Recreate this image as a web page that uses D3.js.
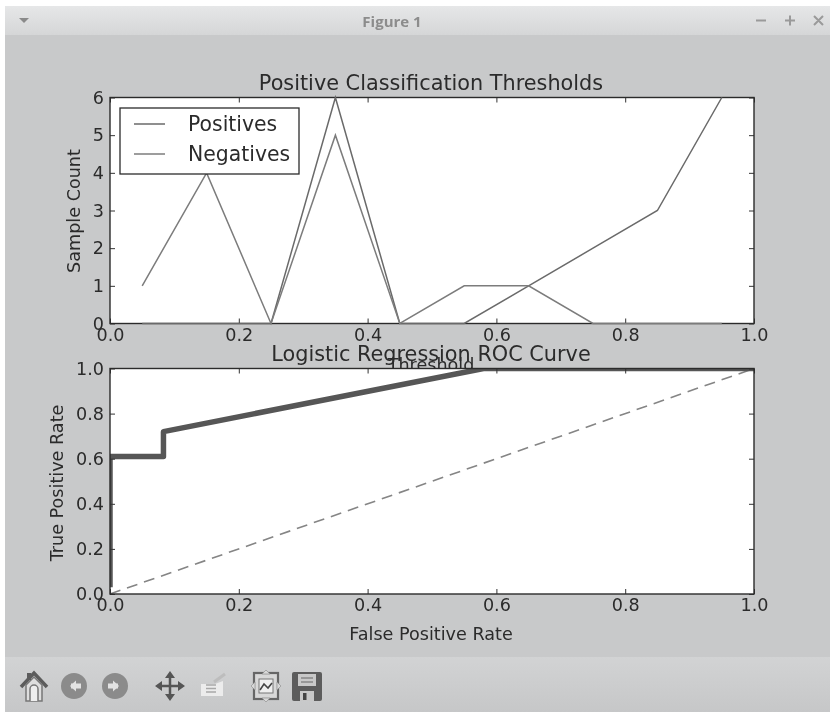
<!DOCTYPE html>
<html><head><meta charset="utf-8">
<script src="https://cdn.jsdelivr.net/npm/d3@7"></script>
<style>
html,body{margin:0;padding:0;background:#fff;overflow:hidden}
svg{display:block;filter:blur(0.45px)}
text{font-family:"DejaVu Sans",sans-serif;fill:#2b2b2b}
.axis path{display:none}
.axis line{stroke:#333;stroke-width:1}
.axis text{font-size:17.6px;fill:#2b2b2b}
</style></head><body>
<svg id="c" width="830" height="712"></svg>
<script>
const thresholds=[0.05,0.15,0.25,0.35,0.45,0.55,0.65,0.75,0.85,0.95];
const positives=[0,0,0,6,0,0,1,2,3,6];
const negatives=[1,4,0,5,0,1,1,0,0,0];
const rocFpr=[0,0,0.083,0.083,0.58,1];
const rocTpr=[0.03,0.61,0.61,0.72,1,1];
const diagFpr=[0,1];
const diagTpr=[0,1];
const xTicks=[0,0.2,0.4,0.6,0.8,1];
const countTicks=[0,1,2,3,4,5,6];
const rateTicks=[0,0.2,0.4,0.6,0.8,1];
const legendLabels=["Positives","Negatives"];

const svg=d3.select("#c");
const defs=svg.append("defs");
const g1=defs.append("linearGradient").attr("id","tb").attr("x1",0).attr("x2",0).attr("y1",0).attr("y2",1);
g1.append("stop").attr("offset",0).attr("stop-color","#e6e7e8");
g1.append("stop").attr("offset",1).attr("stop-color","#d5d6d7");
const g2=defs.append("linearGradient").attr("id","bar").attr("x1",0).attr("x2",0).attr("y1",0).attr("y2",1);
g2.append("stop").attr("offset",0).attr("stop-color","#d2d3d4");
g2.append("stop").attr("offset",1).attr("stop-color","#c6c7c8");

// window chrome
svg.append("rect").attr("x",5).attr("y",6).attr("width",825).attr("height",706).attr("fill","#c8c9ca");
svg.append("rect").attr("x",5).attr("y",6).attr("width",825).attr("height",29).attr("fill","url(#tb)");
svg.append("rect").attr("x",5).attr("y",657).attr("width",825).attr("height",55).attr("fill","url(#bar)");
svg.append("path").attr("d","M19 18h10l-5 5z").attr("fill","#8a8a8a");
svg.append("text").attr("x",392).attr("y",27).attr("text-anchor","middle").attr("font-size",15).attr("font-weight","bold")
  .style("font-family","'Open Sans',sans-serif").style("fill","#8c8c8c").text("Figure 1");
svg.append("path").attr("d","M756 20.5h10M790 15.5v10M785 20.5h10M814 16l9 9M823 16l-9 9").attr("stroke","#9a9a9a").attr("stroke-width",2).attr("fill","none");

const left=110,right=754;
function panel(top,bottom,yDomain,yT,yFmt,id){
  const x=d3.scaleLinear().domain([0,1]).range([left,right]);
  const y=d3.scaleLinear().domain(yDomain).range([bottom,top]);
  const g=svg.append("g");
  g.append("rect").attr("x",left).attr("y",top).attr("width",right-left).attr("height",bottom-top).attr("fill","#fff");
  defs.append("clipPath").attr("id",id).append("rect").attr("x",left).attr("y",top).attr("width",right-left).attr("height",bottom-top);
  return {x,y,g,top,bottom,yT,yFmt};
}
function frame(p){
  const {x,y,g,top,bottom,yT,yFmt}=p;
  const xf=d3.format(".1f");
  g.append("g").attr("class","axis").attr("transform",`translate(0,${bottom})`)
    .call(d3.axisBottom(x).tickValues(xTicks).tickFormat(xf).tickSizeInner(-5).tickPadding(5))
    .selectAll("text").attr("dy","0.71em");
  g.append("g").attr("class","axis").attr("transform",`translate(0,${top})`)
    .call(d3.axisTop(x).tickValues(xTicks).tickFormat("").tickSizeInner(-5));
  g.append("g").attr("class","axis").attr("transform",`translate(${left},0)`)
    .call(d3.axisLeft(y).tickValues(yT).tickFormat(yFmt).tickSizeInner(-5).tickPadding(6));
  g.append("g").attr("class","axis").attr("transform",`translate(${right},0)`)
    .call(d3.axisRight(y).tickValues(yT).tickFormat("").tickSizeInner(-5));
  g.append("rect").attr("x",left).attr("y",top).attr("width",right-left).attr("height",bottom-top)
    .attr("fill","none").attr("stroke","#2b2b2b").attr("stroke-width",1.4);
}

// top panel
const p1=panel(97.5,323.5,[0,6],countTicks,d3.format("d"),"clip1");
const line1=d3.line().x(d=>p1.x(d[0])).y(d=>p1.y(d[1]));
frame(p1);
[[positives,"#6a6a6a"],[negatives,"#7c7c7c"]].forEach(([v,c])=>{
  p1.g.append("path").attr("d",line1(thresholds.map((t,i)=>[t,v[i]]))).attr("fill","none").attr("stroke",c).attr("stroke-width",1.5);
});
svg.append("text").attr("x",431).attr("y",90).attr("text-anchor","middle").attr("font-size",20.8).text("Positive Classification Thresholds");
svg.append("text").attr("transform","translate(80,211) rotate(-90)").attr("text-anchor","middle").attr("font-size",17.6).text("Sample Count");
svg.append("text").attr("x",431).attr("y",371).attr("text-anchor","middle").attr("font-size",17.6).text("Threshold");

// legend
const lg=svg.append("g");
lg.append("rect").attr("x",120).attr("y",108).attr("width",179).attr("height",66).attr("fill","#fff").attr("stroke","#2b2b2b").attr("stroke-width",1.3);
legendLabels.forEach((l,i)=>{
  const yy=124+i*30;
  lg.append("line").attr("x1",134).attr("x2",165).attr("y1",yy).attr("y2",yy).attr("stroke",i?"#7c7c7c":"#6a6a6a").attr("stroke-width",1.5);
  lg.append("text").attr("x",188).attr("y",yy+7).attr("font-size",20.4).text(l);
});

// bottom panel
const p2=panel(368.5,594,[0,1],rateTicks,d3.format(".1f"),"clip2");
const line2=d3.line().x(d=>p2.x(d[0])).y(d=>p2.y(d[1]));
p2.g.append("path").attr("d",line2(diagFpr.map((f,i)=>[f,diagTpr[i]]))).attr("fill","none").attr("stroke","#858585").attr("stroke-width",1.6).attr("stroke-dasharray","11,7");
p2.g.append("path").attr("d",line2(rocFpr.map((f,i)=>[f,rocTpr[i]]))).attr("clip-path","url(#clip2)").attr("fill","none").attr("stroke","#565656").attr("stroke-width",5.5).attr("stroke-linejoin","round");
frame(p2);
svg.append("text").attr("x",431).attr("y",361).attr("text-anchor","middle").attr("font-size",20.8).text("Logistic Regression ROC Curve");
svg.append("text").attr("transform","translate(63,483) rotate(-90)").attr("text-anchor","middle").attr("font-size",17.6).text("True Positive Rate");
svg.append("text").attr("x",431).attr("y",640).attr("text-anchor","middle").attr("font-size",17.6).text("False Positive Rate");

// toolbar icons
const tb=svg.append("g");
tb.append("path").attr("d","M21 687L34 673L47 687").attr("fill","none").attr("stroke","#5c5c5c").attr("stroke-width",3.5);
tb.append("path").attr("d","M26 685L34 677L42 685V701H26Z").attr("fill","#dedede").attr("stroke","#777").attr("stroke-width",1.5);
tb.append("path").attr("d","M30 701V689a4 4 0 0 1 8 0V701").attr("fill","#eee").attr("stroke","#777").attr("stroke-width",1.5);
tb.append("rect").attr("x",27).attr("y",673).attr("width",4).attr("height",7).attr("fill","#5c5c5c");
[[74,"M81 686H71","M76 680.5l-6 5.5 6 5.5"],[115,"M108 686H118","M113 680.5l6 5.5-6 5.5"]].forEach(([cx,a,b])=>{
  tb.append("circle").attr("cx",cx).attr("cy",686).attr("r",13).attr("fill","#8b8b8b");
  tb.append("path").attr("d",a).attr("stroke","#e2e2e2").attr("stroke-width",5).attr("fill","none");
  tb.append("path").attr("d",b).attr("fill","#e2e2e2");
});
tb.append("path").attr("d","M158 686H182M170 674V698").attr("stroke","#555").attr("stroke-width",2.5);
tb.append("path").attr("d","M155 686l7-5v10zM185 686l-7-5v10zM170 671l-5 7h10zM170 701l-5-7h10z").attr("fill","#555");
tb.append("path").attr("d","M201 684h14l8-3v15h-22z").attr("fill","#ececec");
tb.append("path").attr("d","M206 685h10M206 688.5h10M206 692h10").attr("stroke","#a8a8a8").attr("stroke-width",1.5);
tb.append("path").attr("d","M214 682L225 674").attr("stroke","#bdbdbd").attr("stroke-width",3);
tb.append("rect").attr("x",254).attr("y",673).attr("width",24).attr("height",26).attr("fill","#d8d8d8").attr("stroke","#666").attr("stroke-width",2.2);
tb.append("rect").attr("x",259).attr("y",679).attr("width",14).attr("height",14).attr("fill","#efefef").attr("stroke","#777");
tb.append("path").attr("d","M260 690l4-6 4 4 4-5").attr("stroke","#444").attr("stroke-width",1.6).attr("fill","none");
tb.append("path").attr("d","M266 670l-4 4h8zM266 702l-4-4h8zM251 686l4-4v8zM281 686l-4-4v8z").attr("fill","#d8d8d8").attr("stroke","#888").attr("stroke-width",.6);
tb.append("path").attr("d","M294 672h26a2 2 0 0 1 2 2v25a2 2 0 0 1-2 2h-26a2 2 0 0 1-2-2v-25a2 2 0 0 1 2-2z").attr("fill","#5c5c5c");
tb.append("rect").attr("x",298).attr("y",674).attr("width",18).attr("height",12).attr("fill","#c8c8c8");
tb.append("path").attr("d","M301 678h12M301 682h12").attr("stroke","#666").attr("stroke-width",1.2);
tb.append("rect").attr("x",300).attr("y",691).attr("width",14).attr("height",10).attr("fill","#c8c8c8");
tb.append("rect").attr("x",303).attr("y",693).attr("width",3.5).attr("height",7).attr("fill","#444");
</script></body></html>
